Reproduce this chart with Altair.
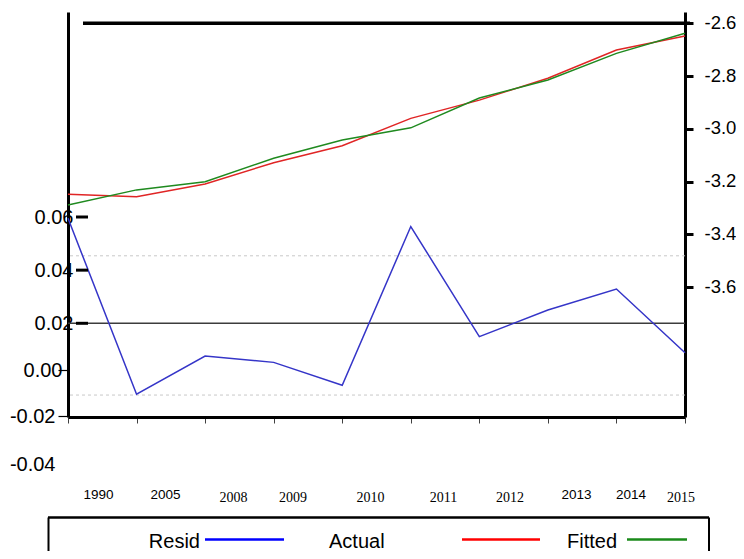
import altair as alt
import pandas as pd

# ---------------- data ----------------
years = ["1990", "2005", "2008", "2009", "2010", "2011", "2012", "2013", "2014", "2015"]
resid = [0.0595, -0.0067, 0.0077, 0.0053, -0.0033, 0.0564, 0.0150, 0.0250, 0.0329, 0.0089]
actual = [-3.248, -3.257, -3.209, -3.128, -3.064, -2.960, -2.891, -2.808, -2.701, -2.648]
fitted = [-3.288, -3.231, -3.200, -3.111, -3.042, -2.996, -2.883, -2.815, -2.714, -2.638]
left_ticks = [0.06, 0.04, 0.02, 0.00, -0.02, -0.04]
right_ticks = [-2.6, -2.8, -3.0, -3.2, -3.4, -3.6]
band_lines = [0.0454, -0.0070]
ref_line = [0.02]
legend_names = ["Resid", "Actual", "Fitted"]

# ---------------- layout ----------------
W, H = 617, 405
KA = 2657.5          # px per unit, residual scale
YA06 = 205.0         # plot-y of 0.06
KC = 264.0           # px per unit, actual/fitted scale
YC26 = 11.3          # plot-y of -2.6

a_top = 0.06 + YA06 / KA
a_bot = 0.06 - (H - YA06) / KA
scaleA = alt.Scale(domain=[a_bot, a_top], nice=False, zero=False)

# label scale for the left axis (the reference spaces the lower labels unevenly)
scaleB = alt.Scale(
    domain=[-0.05, -0.04, -0.02, 0.0, 0.02, 0.06, a_top],
    range=[476.5, 452.5, 404.0, 358.0, YA06 + 0.04 * KA, YA06, 0],
    nice=False, zero=False,
)

c_top = -2.6 + YC26 / KC
c_bot = -2.6 - (H - YC26) / KC
scaleC = alt.Scale(domain=[c_bot, c_top], nice=False, zero=False)

MINUS = "replace(datum.label, '\u2212', '-')"


def cond(mapping, default):
    return {
        "condition": [{"test": f"datum.value == '{k}'", "value": v} for k, v in mapping.items()],
        "value": default,
    }


sans_years = ["1990", "2005", "2013", "2014"]
x_offsets = dict(zip(years, [30, 28.4, 27.9, 18.8, 27.8, 32.2, 30.2, 28.1, 14.1, -4.5]))

x_axis = alt.Axis(
    title=None, labelAngle=0, labelAlign="center", labelBaseline="middle",
    labelColor="black", labelFontSize=cond({y: 13.5 for y in sans_years}, 14),
    labelFont=cond({y: "Liberation Sans" for y in sans_years}, "Liberation Serif"),
    labelOffset=cond(x_offsets, 0),
    labelPadding=cond({y: 71 for y in sans_years}, 74),
    tickSize=6, tickColor="#404040", tickWidth=1,
    domainColor="black", domainWidth=3, grid=False,
    labelOverlap=False, labelFlush=False, labelBound=False,
)
xenc = alt.X("year:N", sort=years, scale=alt.Scale(type="point", padding=0), axis=x_axis)

axisA = alt.Axis(orient="left", title=None, labels=False, ticks=False,
                 domainColor="black", domainWidth=3, grid=False)

axisB = alt.Axis(
    orient="left", title=None, values=left_ticks, format=".2f", labelExpr=MINUS,
    domain=False, grid=False, labelFontSize=20, labelFont="Liberation Sans",
    labelColor="black", labelAlign="right", labelBaseline="middle",
    labelPadding={"condition": [{"test": "datum.value > 0.01", "value": -15},
                                {"test": "datum.value > -0.01", "value": -4}], "value": 3},
    tickSize=10, tickColor="black", tickWidth=1.2,
    tickOpacity={"condition": {"test": "datum.value > -0.03 && datum.value < 0.01", "value": 1}, "value": 0},
    labelFlush=False, labelOverlap=False, labelBound=False,
)

axisC = alt.Axis(
    orient="right", title=None, values=right_ticks, format=".1f", labelExpr=MINUS,
    domainColor="black", domainWidth=3, tickColor="black", tickWidth=3, tickSize=8,
    labelPadding=11, labelFontSize=18.5, labelFont="Liberation Sans", labelColor="black",
    labelAlign="left", labelBaseline="middle", labelOffset=-1, grid=False,
    labelFlush=False, labelOverlap=False,
)

# ---------------- residual layer ----------------
resid_df = pd.DataFrame({"year": years, "resid": resid})
dash = alt.Chart(pd.DataFrame({"v": band_lines})).mark_rule(
    color="#c8c8c8", strokeDash=[3, 3], strokeWidth=1
).encode(y=alt.Y("v:Q", scale=scaleA, axis=axisA))
zero = alt.Chart(pd.DataFrame({"v": ref_line})).mark_rule(
    color="#3c3c3c", strokeWidth=1.5
).encode(y=alt.Y("v:Q", scale=scaleA, axis=axisA))
resid_line = alt.Chart(resid_df).mark_line(color="#3535c8", strokeWidth=1.5).encode(
    x=xenc, y=alt.Y("resid:Q", scale=scaleA, axis=axisA)
)
layerA = alt.layer(dash, zero, resid_line)

# ---------------- left label axis ----------------
tick_rules = alt.Chart(pd.DataFrame({"v": left_ticks[:3]})).mark_rule(
    color="black", strokeWidth=3
).encode(y=alt.Y("v:Q", scale=scaleB, axis=axisB), x=alt.value(8), x2=alt.value(20))
layerB = alt.layer(tick_rules)

# ---------------- actual / fitted layer ----------------
af_df = pd.DataFrame({"year": years, "actual": actual, "fitted": fitted})
act = alt.Chart(af_df).mark_line(color="#e02525", strokeWidth=1.5).encode(
    x=xenc, y=alt.Y("actual:Q", scale=scaleC, axis=axisC)
)
fit = alt.Chart(af_df).mark_line(color="#1f8a1f", strokeWidth=1.5).encode(
    x=xenc, y=alt.Y("fitted:Q", scale=scaleC, axis=axisC)
)
top_rule = alt.Chart(pd.DataFrame({"v": right_ticks[:1]})).mark_rule(
    color="black", strokeWidth=3.5
).encode(y=alt.Y("v:Q", scale=scaleC, axis=axisC), x=alt.value(15), x2=alt.value(622))
layerC = alt.layer(act, fit, top_rule)

# ---------------- custom legend ----------------
def one(name):
    return pd.DataFrame({"name": [name]})

LY = 529.5
LL = 527.5
lf = dict(fontSize=20, font="Liberation Sans", color="black", baseline="middle")
leg = [
    alt.Chart(one("frame")).mark_rule(color="black", strokeWidth=2.5).encode(
        x=alt.value(-20), x2=alt.value(641), y=alt.value(505.5)),
    alt.Chart(one("frame")).mark_rule(color="black", strokeWidth=2).encode(
        x=alt.value(-19.5), y=alt.value(505.5), y2=alt.value(545)),
    alt.Chart(one("frame")).mark_rule(color="black", strokeWidth=2).encode(
        x=alt.value(641), y=alt.value(505.5), y2=alt.value(545)),
    alt.Chart(one(legend_names[0])).mark_text(align="right", **lf).encode(
        text="name:N", x=alt.value(132), y=alt.value(LY)),
    alt.Chart(one(legend_names[0])).mark_rule(color="#0000ff", strokeWidth=2.5).encode(
        x=alt.value(137), x2=alt.value(216), y=alt.value(LL)),
    alt.Chart(one(legend_names[1])).mark_text(align="left", **lf).encode(
        text="name:N", x=alt.value(261), y=alt.value(LY)),
    alt.Chart(one(legend_names[1])).mark_rule(color="#ff0000", strokeWidth=2.5).encode(
        x=alt.value(394), x2=alt.value(472), y=alt.value(LL)),
    alt.Chart(one(legend_names[2])).mark_text(align="left", **lf).encode(
        text="name:N", x=alt.value(499), y=alt.value(LY)),
    alt.Chart(one(legend_names[2])).mark_rule(color="#1a8a1a", strokeWidth=2.5).encode(
        x=alt.value(559), x2=alt.value(619), y=alt.value(LL)),
]

chart = (
    alt.layer(layerA, layerB, layerC, *leg)
    .resolve_scale(y="independent")
    .resolve_axis(y="independent")
    .properties(
        width=W, height=H,
        padding={"left": 60, "top": 4, "right": 51, "bottom": 134},
        autosize=alt.AutoSizeParams(type="none"),
        background="white",
    )
    .configure_view(stroke=None)
)

chart.save("out.html", embed_options={"renderer": "svg", "actions": False})
